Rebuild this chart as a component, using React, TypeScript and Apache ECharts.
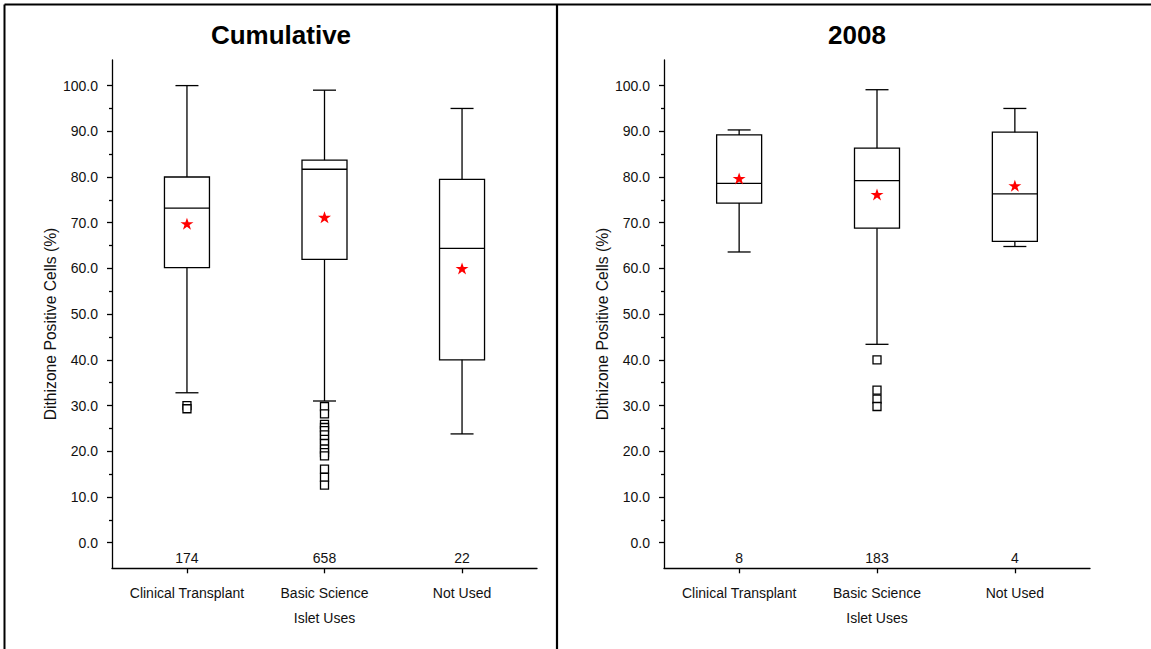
import React, { useEffect, useRef } from 'react';
import * as echarts from 'echarts';

// ---------- data ----------
const categories = ['Clinical Transplant', 'Basic Science', 'Not Used'];
const categoryPositions = [1, 2, 3];
const yTickValues = [0, 10, 20, 30, 40, 50, 60, 70, 80, 90, 100];
const yMinorTickValues = [5, 15, 25, 35, 45, 55, 65, 75, 85, 95];
const panelTitles = ['Cumulative', '2008'];
const yAxisTitle = 'Dithizone Positive Cells (%)';
const xAxisTitle = 'Islet Uses';

// Cumulative panel
const cumLowerWhisker = [32.8, 31.0, 23.8];
const cumQ1 = [60.2, 62.0, 40.0];
const cumMedian = [73.2, 81.7, 64.4];
const cumQ3 = [80.0, 83.7, 79.5];
const cumUpperWhisker = [100.0, 99.0, 95.0];
const cumMean = [69.8, 71.2, 60.0];
const cumCounts = [174, 658, 22];
const cumOutliers = [
  [30.0, 29.3],
  [29.8, 28.2, 25.9, 25.2, 24.5, 23.6, 22.6, 21.7, 20.5, 19.7, 19.0, 16.1, 14.3, 12.6],
  [],
];

// 2008 panel
const y08LowerWhisker = [63.6, 43.4, 64.8];
const y08Q1 = [74.3, 68.8, 65.9];
const y08Median = [78.6, 79.2, 76.3];
const y08Q3 = [89.2, 86.3, 89.8];
const y08UpperWhisker = [90.3, 99.1, 95.0];
const y08Mean = [79.7, 76.2, 78.1];
const y08Counts = [8, 183, 4];
const y08Outliers = [[], [40.0, 33.4, 31.4, 29.8], []];

// ---------- layout constants ----------
const Y_MIN = -5.6;
const Y_MAX = 105.6;
const X_MIN = 0.455;
const X_MAX = 3.545;
const COUNT_LEVEL = -3.45;
const FONT = "'Liberation Sans', Arial, Helvetica, sans-serif";
const LABEL_SIZE = 14;
const STAR =
  'path://M50,0 L61.8,35.1 L98.9,35.1 L68.8,56.8 L80.3,91.9 L50,70.2 L19.7,91.9 L31.2,56.8 L1.1,35.1 L38.2,35.1 Z';

const panels = [
  {
    low: cumLowerWhisker, q1: cumQ1, med: cumMedian, q3: cumQ3, high: cumUpperWhisker,
    mean: cumMean, counts: cumCounts, outliers: cumOutliers,
  },
  {
    low: y08LowerWhisker, q1: y08Q1, med: y08Median, q3: y08Q3, high: y08UpperWhisker,
    mean: y08Mean, counts: y08Counts, outliers: y08Outliers,
  },
];

const grids = [
  { left: 112, top: 60, width: 425, height: 508.3 },
  { left: 664, top: 60, width: 426, height: 508.3 },
];

function buildOption() {
  const xAxis: any[] = [];
  const yAxis: any[] = [];
  const series: any[] = [];
  const line = { color: '#000', width: 1.3 };

  panels.forEach((p, i) => {
    xAxis.push({
      type: 'value',
      gridIndex: i,
      position: 'bottom',
      min: X_MIN,
      max: X_MAX,
      axisLine: { show: true, onZero: false, lineStyle: line },
      axisTick: { show: true, customValues: categoryPositions, length: 5, lineStyle: line },
      axisLabel: {
        customValues: categoryPositions,
        formatter: (v: number) => categories[Math.round(v) - 1] || '',
        margin: 18,
        fontSize: LABEL_SIZE,
        color: '#111',
        fontFamily: FONT,
      },
      splitLine: { show: false },
      name: xAxisTitle,
      nameLocation: 'middle',
      nameGap: 43,
      nameTextStyle: { fontSize: LABEL_SIZE, color: '#111', fontFamily: FONT },
    });
    yAxis.push({
      type: 'value',
      gridIndex: i,
      position: 'left',
      min: Y_MIN,
      max: Y_MAX,
      axisLine: { show: true, onZero: false, lineStyle: line },
      axisTick: { show: true, customValues: yTickValues, length: 5, lineStyle: line },
      axisLabel: {
        customValues: yTickValues,
        formatter: (v: number) => v.toFixed(1),
        margin: 14,
        fontSize: LABEL_SIZE,
        color: '#111',
        fontFamily: FONT,
      },
      splitLine: { show: false },
    });
    yAxis.push({
      type: 'value',
      gridIndex: i,
      position: 'left',
      offset: 0,
      min: Y_MIN,
      max: Y_MAX,
      axisLine: { show: false, onZero: false },
      axisTick: { show: true, customValues: yMinorTickValues, length: 3, lineStyle: line },
      axisLabel: { show: false },
      splitLine: { show: false },
    });

    const boxData = categoryPositions.map((x, k) => [x, p.low[k], p.q1[k], p.med[k], p.q3[k], p.high[k]]);
    series.push({
      type: 'custom',
      xAxisIndex: i,
      yAxisIndex: 2 * i,
      encode: { x: 0, y: [1, 2, 3, 4, 5] },
      data: boxData,
      z: 2,
      renderItem: (params: any, api: any) => {
        const x = api.value(0);
        const pLow = api.coord([x, api.value(1)]);
        const pQ1 = api.coord([x, api.value(2)]);
        const pMed = api.coord([x, api.value(3)]);
        const pQ3 = api.coord([x, api.value(4)]);
        const pHigh = api.coord([x, api.value(5)]);
        const cx = pQ1[0];
        const hb = 22.5;
        const hc = 11.5;
        const st = { stroke: '#000', lineWidth: 1.3, fill: 'none' };
        return {
          type: 'group',
          children: [
            { type: 'rect', shape: { x: cx - hb, y: pQ3[1], width: 2 * hb, height: pQ1[1] - pQ3[1] }, style: st },
            { type: 'line', shape: { x1: cx - hb, y1: pMed[1], x2: cx + hb, y2: pMed[1] }, style: st },
            { type: 'line', shape: { x1: cx, y1: pQ3[1], x2: cx, y2: pHigh[1] }, style: st },
            { type: 'line', shape: { x1: cx - hc, y1: pHigh[1], x2: cx + hc, y2: pHigh[1] }, style: st },
            { type: 'line', shape: { x1: cx, y1: pQ1[1], x2: cx, y2: pLow[1] }, style: st },
            { type: 'line', shape: { x1: cx - hc, y1: pLow[1], x2: cx + hc, y2: pLow[1] }, style: st },
          ],
        };
      },
    });

    const outlierData: number[][] = [];
    p.outliers.forEach((arr, k) => arr.forEach((v) => outlierData.push([categoryPositions[k], v])));
    series.push({
      type: 'scatter',
      xAxisIndex: i,
      yAxisIndex: 2 * i,
      data: outlierData,
      symbol: 'rect',
      symbolSize: 8,
      itemStyle: { color: '#fff', borderColor: '#000', borderWidth: 1.3, opacity: 1 },
      z: 3,
    });

    series.push({
      type: 'scatter',
      xAxisIndex: i,
      yAxisIndex: 2 * i,
      data: categoryPositions.map((x, k) => [x, p.mean[k]]),
      symbol: STAR,
      symbolSize: [13, 12],
      itemStyle: { color: '#ff0000', opacity: 1 },
      z: 4,
    });

    series.push({
      type: 'custom',
      xAxisIndex: i,
      yAxisIndex: 2 * i,
      encode: { x: 0, y: 1 },
      data: categoryPositions.map((x, k) => [x, COUNT_LEVEL, p.counts[k]]),
      z: 4,
      renderItem: (params: any, api: any) => {
        const pt = api.coord([api.value(0), api.value(1)]);
        return {
          type: 'text',
          x: pt[0],
          y: pt[1],
          style: {
            text: String(api.value(2)),
            font: `${LABEL_SIZE}px ${FONT}`,
            fill: '#111',
            textAlign: 'center',
            textVerticalAlign: 'middle',
          },
        };
      },
    });
  });

  const graphic: any[] = [
    { type: 'line', shape: { x1: 4.5, y1: 4.5, x2: 1151, y2: 4.5 }, style: { stroke: '#000', lineWidth: 2 } },
    { type: 'line', shape: { x1: 4.5, y1: 4.5, x2: 4.5, y2: 649 }, style: { stroke: '#000', lineWidth: 2 } },
    { type: 'line', shape: { x1: 557, y1: 4.5, x2: 557, y2: 649 }, style: { stroke: '#000', lineWidth: 2.2 } },
    {
      type: 'text', x: 281, y: 35,
      style: { text: panelTitles[0], font: `bold 26px ${FONT}`, fill: '#000', textAlign: 'center', textVerticalAlign: 'middle' },
    },
    {
      type: 'text', x: 857, y: 35,
      style: { text: panelTitles[1], font: `bold 26px ${FONT}`, fill: '#000', textAlign: 'center', textVerticalAlign: 'middle' },
    },
    {
      type: 'text', x: 50, y: 324, rotation: Math.PI / 2,
      style: { text: yAxisTitle, font: `15.7px ${FONT}`, fill: '#111', textAlign: 'center', textVerticalAlign: 'middle' },
    },
    {
      type: 'text', x: 602, y: 324, rotation: Math.PI / 2,
      style: { text: yAxisTitle, font: `15.7px ${FONT}`, fill: '#111', textAlign: 'center', textVerticalAlign: 'middle' },
    },
  ];

  return {
    animation: false,
    backgroundColor: '#fff',
    textStyle: { fontFamily: FONT },
    grid: grids.map((g) => ({ ...g, containLabel: false })),
    xAxis,
    yAxis,
    series,
    graphic,
  };
}

export default function App() {
  const ref = useRef<HTMLDivElement>(null);
  useEffect(() => {
    if (!ref.current) return;
    const chart = echarts.init(ref.current, undefined, { renderer: 'svg' });
    chart.setOption(buildOption() as any);
    return () => chart.dispose();
  }, []);
  return (
    <div
      ref={ref}
      style={{ position: 'fixed', left: 0, top: 0, width: 1151, height: 649, background: '#fff' }}
    />
  );
}
